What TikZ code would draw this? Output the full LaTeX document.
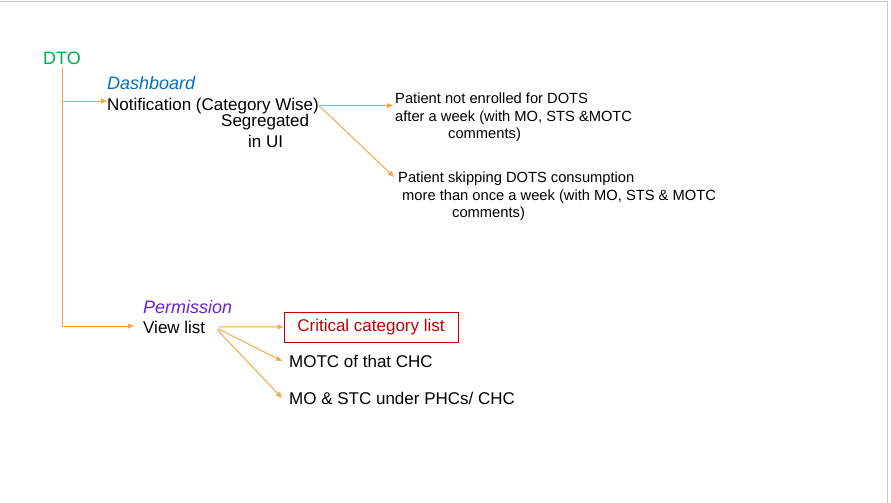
\documentclass[tikz,border=0pt]{standalone}
\usepackage{fontspec}
\setmainfont{Liberation Sans}
\usetikzlibrary{arrows.meta,calc}
\definecolor{lineorange}{RGB}{246,168,72}
\definecolor{dtogreen}{RGB}{0,176,80}
\definecolor{dashblue}{RGB}{0,112,192}
\definecolor{permviolet}{RGB}{104,32,208}
\definecolor{critred}{RGB}{192,0,0}
\definecolor{framegray}{RGB}{200,200,200}
\tikzset{
  txt/.style={inner sep=0pt, anchor=base west, font=\fontsize{17}{20}\selectfont},
  head/.style={inner sep=0pt, anchor=base west, font=\fontsize{18}{21}\selectfont\itshape},
  small/.style={inner sep=0pt, anchor=base west, align=left, font=\fontsize{14.7}{17.8}\selectfont},
  conn/.style={draw=lineorange, line width=1pt},
  arr/.style={conn, -{Triangle[length=6pt,width=5pt]}},
  critbox/.style={draw=critred, line width=1pt, text=critred, minimum width=174pt, minimum height=30pt, inner sep=0pt, font=\fontsize{17}{20}\selectfont}
}
\begin{document}
\begin{tikzpicture}[x=1pt,y=-1pt]
\useasboundingbox (0,0) rectangle (891,503);
% frame
\draw[framegray, line width=1pt] (0,1.5) -- (887,1.5) -- (887,503);

% nodes
\node[txt, text=dtogreen, font=\fontsize{18}{21}\selectfont, inner ysep=3pt] (dto) at (43,64) {DTO};
\node[head, text=dashblue] (dash) at (107,89.5) {Dashboard};
\node[txt] (notif) at (107,110) {Notification (Category Wise)};
\node[txt] (seg) at (221,126) {Segregated};
\node[txt] (inui) at (248,147) {in UI};
% multi-line nodes: base anchor = baseline of the last line
\node[small] (p1) at (395,138.9) {Patient not enrolled for DOTS\\after a week (with MO, STS \&MOTC\\\hspace*{53pt}comments)};
\node[small] (p2) at (398,217.9) {Patient skipping DOTS consumption\\\hspace*{4pt}more than once a week (with MO, STS \& MOTC\\\hspace*{54pt}comments)};
\node[head, text=permviolet] (perm) at (143,313.4) {Permission};
\node[txt, inner xsep=9pt] (view) at (134,333) {View list};
\node[critbox] (crit) at (371,327) {Critical category list};
\node[txt, inner xsep=7pt] (motc) at (282,367) {MOTC of that CHC};
\node[txt, inner xsep=7pt] (mostc) at (282,404) {MO \& STC under PHCs/ CHC};

% junctions
\coordinate (j1) at (dto.south |- 0,101);
\coordinate (j2) at (dto.south |- 0,326);
\coordinate (t1) at ($(p1.base west)+(-2,0)$);
\coordinate (t2) at ($(p2.base west)+(-4,-41)$);

% connectors
\draw[conn] (dto.south) -- (j2);
\draw[arr] (j1) -- (j1 -| notif.west);
\draw[arr] (j2) -- (j2 -| view.west);
\draw[arr] (notif.east) -- (t1 |- notif.east);
\draw[arr] (notif.east) -- (t2);
\draw[arr, shorten <=4pt] (view.east) -- (crit.west);
\draw[arr, shorten <=4pt] (view.east) -- (motc.west);
\draw[arr, shorten <=4pt] (view.east) -- (mostc.west);
\end{tikzpicture}
\end{document}
